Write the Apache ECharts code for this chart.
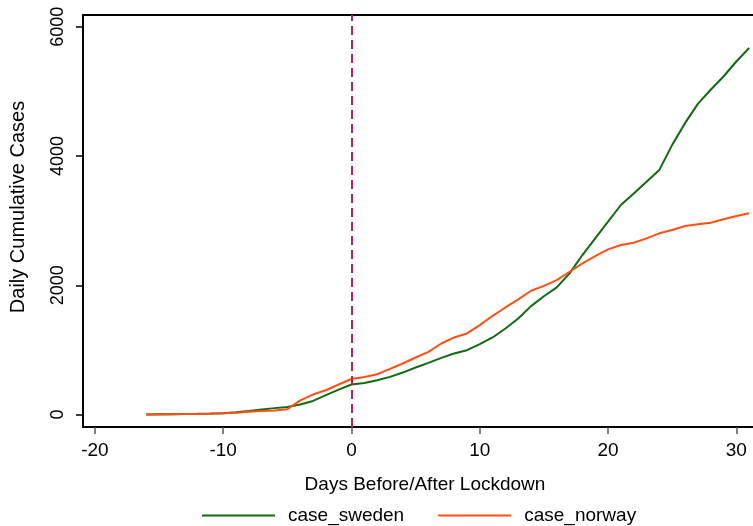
<!DOCTYPE html>
<html>
<head>
<meta charset="utf-8">
<script src="https://cdn.jsdelivr.net/npm/echarts@6/dist/echarts.min.js"></script>
<style>
  html, body { margin: 0; padding: 0; background: #fff; }
  #chart { width: 753px; height: 526px; }
</style>
</head>
<body>
<div id="chart"></div>
<script>
// days relative to lockdown
const days = [-16, -15, -14, -13, -12, -11, -10, -9, -8, -7, -6, -5, -4, -3, -2, -1,
  0, 1, 2, 3, 4, 5, 6, 7, 8, 9, 10, 11, 12, 13, 14, 15,
  16, 17, 18, 19, 20, 21, 22, 23, 24, 25, 26, 27, 28, 29, 30, 31];

const caseSweden = [2, 5, 7, 10, 12, 15, 20, 35, 55, 80, 100, 118, 155, 211, 300, 387,
  465, 490, 531, 583, 650, 728, 800, 877, 945, 996, 1089, 1193, 1332, 1487, 1678, 1830,
  1967, 2184, 2468, 2726, 2984, 3242, 3420, 3600, 3785, 4172, 4508, 4807, 5024, 5230, 5462, 5670];

const caseNorway = [0, 2, 5, 8, 10, 14, 20, 30, 45, 55, 65, 82, 220, 310, 376, 465,
  550, 583, 624, 707, 790, 883, 970, 1100, 1193, 1255, 1383, 1528, 1657, 1781, 1915, 1990,
  2080, 2209, 2339, 2452, 2556, 2623, 2659, 2726, 2804, 2855, 2917, 2943, 2968, 3021, 3072, 3114];

const xTicks = [-20, -10, 0, 10, 20, 30];
const yTicks = [0, 2000, 4000, 6000];

const font = 'Liberation Sans, Arial, sans-serif';
const black = '#000';

const chart = echarts.init(document.getElementById('chart'));
chart.setOption({
  animation: false,
  grid: { left: 83, right: 0, top: 15, bottom: 99 },
  legend: {
    left: 197,
    top: 501,
    icon: 'rect',
    itemWidth: 73,
    itemHeight: 2,
    itemGap: 34,
    textStyle: { fontFamily: font, fontSize: 19, color: black, padding: [0, 0, 0, 8] },
    data: ['case_sweden', 'case_norway']
  },
  xAxis: [{
    type: 'value',
    min: -20.93,
    max: 31.3,
    name: 'Days Before/After Lockdown',
    nameLocation: 'middle',
    nameGap: 48,
    nameTextStyle: { fontFamily: font, fontSize: 19, color: black, padding: [0, 0, 0, 14] },
    splitLine: { show: false },
    axisLine: { onZero: false, lineStyle: { color: black, width: 2 } },
    axisTick: { length: 7, customValues: xTicks, lineStyle: { color: '#555', width: 1.5 } },
    axisLabel: { customValues: xTicks, margin: 14, fontFamily: font, fontSize: 19, color: black,
      formatter: v => String(v) }
  }, {
    type: 'value',
    position: 'top',
    min: -20.93,
    max: 31.3,
    splitLine: { show: false },
    axisLine: { onZero: false, lineStyle: { color: black, width: 2 } },
    axisTick: { show: false },
    axisLabel: { show: false }
  }],
  yAxis: {
    type: 'value',
    min: -192,
    max: 6181,
    name: 'Daily Cumulative Cases',
    nameLocation: 'middle',
    nameGap: 55,
    nameTextStyle: { fontFamily: font, fontSize: 20, color: black, padding: [0, 0, 0, 28] },
    splitLine: { show: false },
    axisLine: { show: true, onZero: false, lineStyle: { color: black, width: 2 } },
    axisTick: { show: true, length: 7, customValues: yTicks, lineStyle: { color: black, width: 1.5 } },
    axisLabel: { customValues: yTicks, rotate: 90, margin: 16, fontFamily: font, fontSize: 18, color: black,
      formatter: v => String(v) }
  },
  series: [{
    name: 'case_sweden',
    type: 'line',
    data: days.map((d, i) => [d, caseSweden[i]]),
    symbol: 'none',
    lineStyle: { color: '#0f6b0f', width: 2 },
    itemStyle: { color: '#0f6b0f' },
    markLine: {
      silent: true,
      symbol: 'none',
      label: { show: false },
      lineStyle: { color: '#cc1a4a', width: 2, type: [9, 5] },
      data: [{ xAxis: 0 }]
    }
  }, {
    name: 'case_norway',
    type: 'line',
    data: days.map((d, i) => [d, caseNorway[i]]),
    symbol: 'none',
    lineStyle: { color: '#ff5014', width: 2 },
    itemStyle: { color: '#ff5014' }
  }]
});
</script>
</body>
</html>
